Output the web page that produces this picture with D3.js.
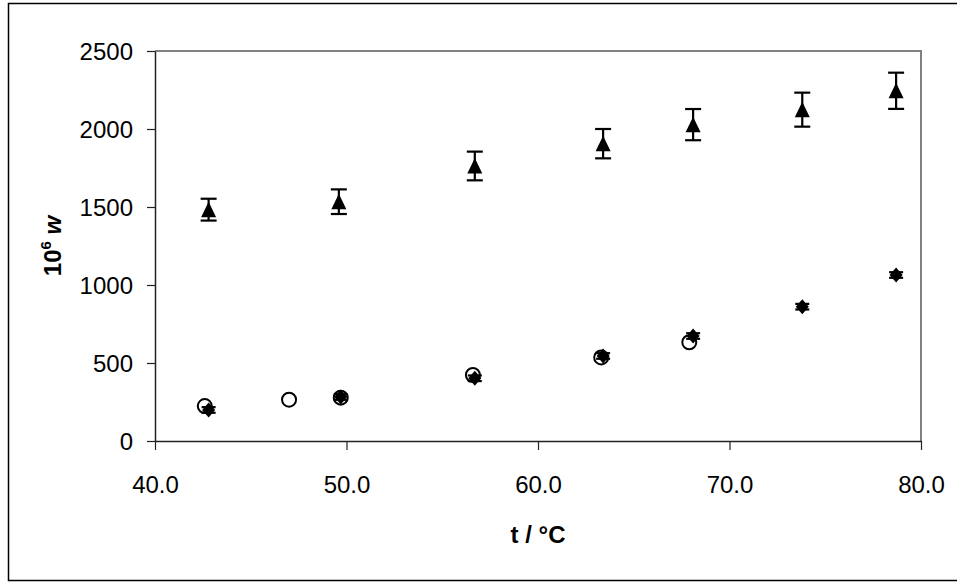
<!DOCTYPE html>
<html>
<head>
<meta charset="utf-8">
<script src="https://cdn.jsdelivr.net/npm/d3@7"></script>
<style>
  body { margin: 0; background: #fff; }
  text { font-family: "Liberation Sans", Arial, sans-serif; }
</style>
</head>
<body>
<svg class="main-graphic"></svg>
<script>
// triangles, with error bars
var triT = [42.8, 49.6, 56.7, 63.4, 68.1, 73.8, 78.7];
var triW = [1483, 1534, 1763, 1906, 2028, 2124, 2245];
var triErr = [70, 79, 92, 94, 100, 109, 116];

// filled diamonds, small error bars
var diaT = [42.8, 49.7, 56.7, 63.4, 68.1, 73.8, 78.7];
var diaW = [199, 282, 402, 545, 673, 861, 1064];
var diaErr = [18, 18, 18, 18, 18, 18, 18];

// open circles
var cirT = [42.6, 47.0, 49.7, 56.6, 63.3, 67.9];
var cirW = [224, 265, 278, 423, 536, 633];

var xTicks = [40, 50, 60, 70, 80];
var yTicks = [0, 500, 1000, 1500, 2000, 2500];

var W = 957, H = 583;
var plot = {left: 155, top: 51, right: 921, bottom: 441};

var svg = d3.select(".main-graphic")
    .attr("width", W)
    .attr("height", H);

// outer chart frame
svg.append("rect")
    .attr("x", 8.5).attr("y", 3.5)
    .attr("width", W).attr("height", 577)
    .attr("fill", "#fff")
    .attr("stroke", "#000")
    .attr("stroke-width", 1.5);

var x = d3.scaleLinear().domain([40, 80]).range([plot.left, plot.right]);
var y = d3.scaleLinear().domain([0, 2500]).range([plot.bottom, plot.top]);

// plot area border (top and right in gray)
svg.append("path")
    .attr("d", "M" + plot.left + "," + plot.top + "H" + plot.right + "V" + plot.bottom)
    .attr("fill", "none")
    .attr("stroke", "#808080")
    .attr("stroke-width", 2);

var xAxis = svg.append("g")
    .attr("transform", "translate(0," + plot.bottom + ")")
    .call(d3.axisBottom(x).tickValues(xTicks).tickFormat(d3.format(".1f")).tickSizeInner(9).tickSizeOuter(0).tickPadding(26));

var yAxis = svg.append("g")
    .attr("transform", "translate(" + plot.left + ",0)")
    .call(d3.axisLeft(y).tickValues(yTicks).tickFormat(d3.format("d")).tickSizeInner(8).tickSizeOuter(0).tickPadding(14));

[xAxis, yAxis].forEach(function(a) {
  a.select(".domain").attr("stroke", "#222").attr("stroke-width", 1.5);
  a.selectAll(".tick line").attr("stroke", "#222").attr("stroke-width", 1.2);
  a.selectAll(".tick text")
      .attr("font-size", 24)
      .attr("font-family", "'Liberation Sans', Arial, sans-serif")
      .attr("fill", "#000");
});
yAxis.selectAll(".tick text").attr("dy", "0.36em");

// axis titles
svg.append("text")
    .attr("x", (plot.left + plot.right) / 2)
    .attr("y", 543)
    .attr("text-anchor", "middle")
    .attr("font-size", 24)
    .attr("font-weight", "bold")
    .text("t / °C");

var yt = svg.append("text")
    .attr("transform", "translate(61," + ((plot.top + plot.bottom) / 2) + ") rotate(-90)")
    .attr("text-anchor", "middle")
    .attr("font-size", 24)
    .attr("font-weight", "bold");
yt.append("tspan").text("10");
yt.append("tspan").attr("font-size", 15).attr("dy", -10).text("6");
yt.append("tspan").attr("dy", 10).text(" ");
yt.append("tspan").attr("font-style", "italic").text("w");

var g = svg.append("g");

function errBars(ts, ws, es, cap) {
  var d = ts.map(function(t, i) { return {t: t, w: ws[i], e: es[i]}; });
  var eb = g.selectAll(null).data(d).enter().append("g").attr("stroke", "#000").attr("stroke-width", 2.2);
  eb.append("line")
      .attr("x1", function(d) { return x(d.t); }).attr("x2", function(d) { return x(d.t); })
      .attr("y1", function(d) { return y(d.w - d.e); }).attr("y2", function(d) { return y(d.w + d.e); });
  [-1, 1].forEach(function(s) {
    eb.append("line")
        .attr("x1", function(d) { return x(d.t) - cap; }).attr("x2", function(d) { return x(d.t) + cap; })
        .attr("y1", function(d) { return y(d.w + s * d.e); }).attr("y2", function(d) { return y(d.w + s * d.e); });
  });
}

errBars(triT, triW, triErr, 8);

g.selectAll(".tri").data(triT).enter().append("path")
    .attr("class", "tri")
    .attr("d", function(t, i) {
      var cx = x(t), cy = y(triW[i]);
      return "M" + cx + "," + (cy - 8) + "L" + (cx + 7.5) + "," + (cy + 7.5) + "L" + (cx - 7.5) + "," + (cy + 7.5) + "Z";
    })
    .attr("fill", "#000");

g.selectAll(".cir").data(cirT).enter().append("circle")
    .attr("class", "cir")
    .attr("cx", function(t) { return x(t); })
    .attr("cy", function(t, i) { return y(cirW[i]); })
    .attr("r", 7)
    .attr("fill", "none")
    .attr("stroke", "#000")
    .attr("stroke-width", 2);

errBars(diaT, diaW, diaErr, 7);

g.selectAll(".dia").data(diaT).enter().append("path")
    .attr("class", "dia")
    .attr("d", function(t, i) {
      var cx = x(t), cy = y(diaW[i]);
      return "M" + cx + "," + (cy - 7.5) + "L" + (cx + 6.5) + "," + cy + "L" + cx + "," + (cy + 7.5) + "L" + (cx - 6.5) + "," + cy + "Z";
    })
    .attr("fill", "#000");
</script>
</body>
</html>
